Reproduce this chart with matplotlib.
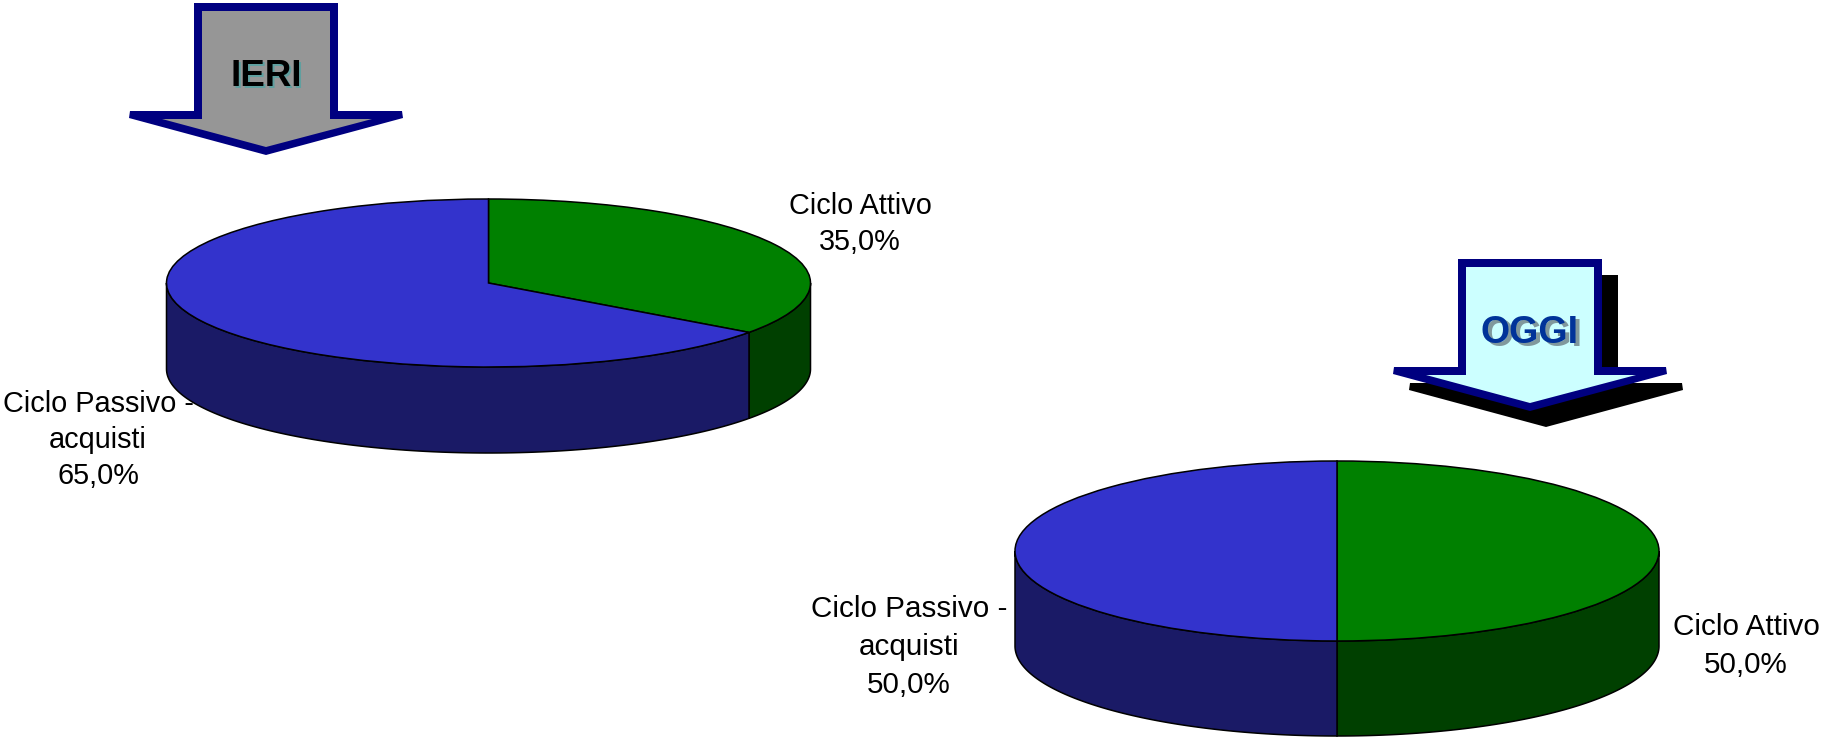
import numpy as np
from matplotlib import pyplot as plt
from matplotlib.patches import Polygon

W, H = 1822, 738

# valori dei due grafici
ieri_values = [35.0, 65.0]
oggi_values = [50.0, 50.0]
ieri_labels = ["Ciclo Attivo\n35,0%", "Ciclo Passivo -\nacquisti\n65,0%"]
oggi_labels = ["Ciclo Attivo\n50,0%", "Ciclo Passivo -\nacquisti\n50,0%"]

top_colors = ["#008000", "#3333cc"]
side_colors = ["#004000", "#1a1a66"]

plt.rcParams['font.family'] = ['Liberation Sans', 'DejaVu Sans']

fig = plt.figure(figsize=(W / 100, H / 100), dpi=100, facecolor="white")
# assi a tutta figura in pixel per frecce e testi
bg = fig.add_axes([0, 0, 1, 1], zorder=0)
bg.set_xlim(0, W)
bg.set_ylim(H, 0)
bg.axis("off")


def pie3d(values, cx, cy, rx, ry, depth):
    # torta "3d": ellisse con pie() e parete laterale sotto
    left = (cx - rx) / W
    bottom = 1 - (cy + ry + depth) / H
    ax = fig.add_axes([left, bottom, 2 * rx / W, (2 * ry + depth) / H], zorder=2)
    ax.pie(values, colors=top_colors, startangle=90, counterclock=False,
           wedgeprops=dict(edgecolor="black", linewidth=1.1, clip_on=False))
    ax.set_aspect("auto")
    ax.set_xlim(-1, 1)
    ax.set_ylim(-1 - depth / ry, 1)
    ax.patch.set_alpha(0)

    d = depth / ry
    t2 = 90.0
    for v, c in zip(values, side_colors):
        t1 = t2 - 360.0 * v / sum(values)
        a = max(t1, -180.0)
        b = min(t2, 0.0)
        if b > a:
            th = np.radians(np.linspace(a, b, 120))
            x = np.cos(th)
            y = np.sin(th)
            pts = np.vstack([np.column_stack([x, y]),
                             np.column_stack([x[::-1], y[::-1] - d])])
            ax.add_patch(Polygon(pts, closed=True, facecolor=c, edgecolor="black",
                                 linewidth=1.1, clip_on=False, zorder=0))
        t2 = t1


def arrow(dx, dy, fill, shadow=False):
    outer = np.array([(194, 3), (338, 3), (338, 111), (402, 111), (403, 118), (266, 155),
                      (129, 118), (130, 111), (194, 111)], dtype=float)
    inner = np.array([(202, 11), (330, 11), (330, 119), (372, 119), (266, 147),
                      (162, 119), (202, 119)], dtype=float)
    off = np.array([dx, dy])
    if shadow:
        bg.add_patch(Polygon(outer + off + 16, closed=True, facecolor="black", edgecolor="none"))
    bg.add_patch(Polygon(outer + off, closed=True, facecolor="#000080", edgecolor="none"))
    bg.add_patch(Polygon(inner + off, closed=True, facecolor=fill, edgecolor="none"))


pie3d(ieri_values, 488.5, 283, 322, 84, 86)
pie3d(oggi_values, 1337, 551, 322, 90, 95)

arrow(0, 0, "#969696")
arrow(1264, 256, "#ccffff", shadow=True)

# scritte nelle frecce, con ombra
bg.text(268, 78, "IERI", fontsize=26.5, fontweight="bold", color="#5f9f9f", ha="center", va="center")
bg.text(266, 76, "IERI", fontsize=26.5, fontweight="bold", color="black", ha="center", va="center")
bg.text(1533, 336, "OGGI", fontsize=27, fontweight="bold", color="#80989c", ha="center", va="center")
bg.text(1530, 333, "OGGI", fontsize=27, fontweight="bold", color="#003399", ha="center", va="center")

# etichette (sotto le torte)
bg.text(860, 224, ieri_labels[0], fontsize=20.8, ha="center", va="center", linespacing=1.37)
bg.text(98, 440, ieri_labels[1], fontsize=20.8, ha="center", va="center", linespacing=1.37)
bg.text(1746, 646, oggi_labels[0], fontsize=21.3, ha="center", va="center", linespacing=1.46)
bg.text(909, 647, oggi_labels[1], fontsize=21.3, ha="center", va="center", linespacing=1.46)

fig.savefig("out.png", dpi=100, facecolor="white")
